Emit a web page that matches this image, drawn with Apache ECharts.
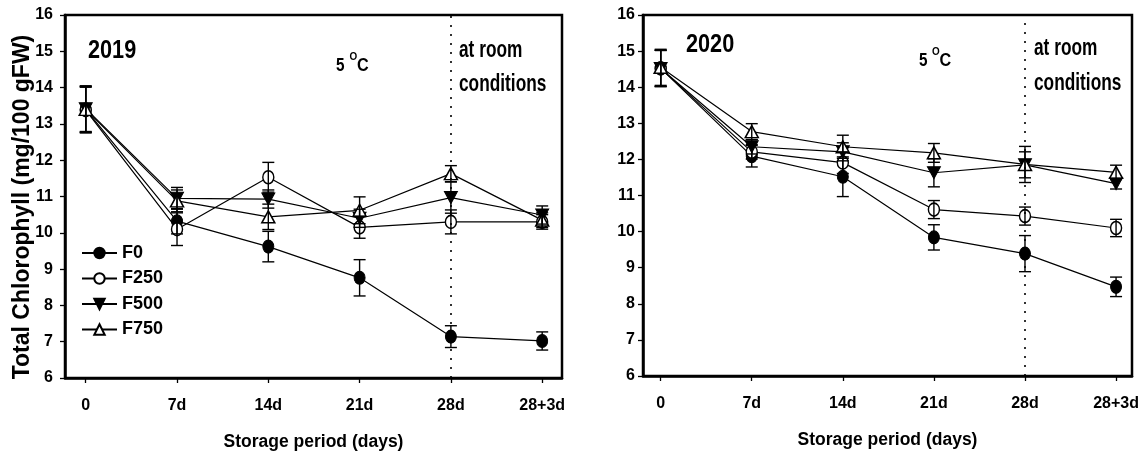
<!DOCTYPE html>
<html><head><meta charset="utf-8">
<script src="https://cdn.jsdelivr.net/npm/echarts@6/dist/echarts.min.js"></script>
<style>html,body{margin:0;padding:0;background:#fff}#c{width:1145px;height:457px}</style>
</head><body><div id="c"></div>
<script>
// ---- data ----
const categories = ['0', '7d', '14d', '21d', '28d', '28+3d'];
const seriesNames = ['F0', 'F250', 'F500', 'F750'];

const f0_2019 = [13.40, 10.32, 9.62, 8.76, 7.14, 7.02];
const f0_2019_err = [0.63, 0.35, 0.42, 0.50, 0.30, 0.25];
const f250_2019 = [13.38, 10.10, 11.53, 10.15, 10.30, 10.30];
const f250_2019_err = [0.63, 0.45, 0.41, 0.30, 0.33, 0.20];
const f500_2019 = [13.42, 10.95, 10.93, 10.40, 10.97, 10.49];
const f500_2019_err = [0.63, 0.30, 0.25, 0.25, 0.43, 0.25];
const f750_2019 = [13.40, 10.88, 10.44, 10.62, 11.63, 10.35];
const f750_2019_err = [0.63, 0.30, 0.35, 0.37, 0.22, 0.20];

const f0_2020 = [14.52, 12.09, 11.52, 9.84, 9.39, 8.47];
const f0_2020_err = [0.50, 0.30, 0.55, 0.35, 0.50, 0.27];
const f250_2020 = [14.52, 12.21, 11.91, 10.61, 10.43, 10.10];
const f250_2020_err = [0.50, 0.20, 0.30, 0.25, 0.25, 0.24];
const f500_2020 = [14.52, 12.35, 12.21, 11.63, 11.85, 11.33];
const f500_2020_err = [0.50, 0.20, 0.25, 0.39, 0.36, 0.15];
const f750_2020 = [14.55, 12.77, 12.35, 12.18, 11.86, 11.64];
const f750_2020_err = [0.50, 0.22, 0.32, 0.26, 0.50, 0.20];

const yTickValues = [6, 7, 8, 9, 10, 11, 12, 13, 14, 15, 16];
const dividerIndex = 4; // 28d

// ---- styles ----
const FONT = '"Liberation Sans", Arial, sans-serif';

const markerStyles = {
  F0: { symbol: 'circle', symbolSize: [11, 13], itemStyle: { color: '#000', borderColor: '#000', borderWidth: 1 } },
  F250: { symbol: 'circle', symbolSize: [11, 13], itemStyle: { color: '#fff', borderColor: '#000', borderWidth: 1.5 } },
  F500: { symbol: 'path://M0,0 L10,0 L5,10 Z', symbolSize: [13, 12], itemStyle: { color: '#000', borderColor: '#000', borderWidth: 1 } },
  F750: { symbol: 'triangle', symbolSize: [13, 12], itemStyle: { color: '#fff', borderColor: '#000', borderWidth: 1.5 } }
};

const panels = [
  { vals: [f0_2019, f250_2019, f500_2019, f750_2019], errs: [f0_2019_err, f250_2019_err, f500_2019_err, f750_2019_err] },
  { vals: [f0_2020, f250_2020, f500_2020, f750_2020], errs: [f0_2020_err, f250_2020_err, f500_2020_err, f750_2020_err] }
];

function errRender(params, api) {
  const x = api.value(0), y = api.value(1), e = api.value(2);
  const t = api.coord([x, y + e]);
  const b = api.coord([x, y - e]);
  const hw = 6;
  const st = { stroke: '#000', lineWidth: 1.4 };
  return {
    type: 'group',
    children: [
      { type: 'line', shape: { x1: t[0], y1: t[1], x2: b[0], y2: b[1] }, style: st },
      { type: 'line', shape: { x1: t[0] - hw, y1: t[1], x2: t[0] + hw, y2: t[1] }, style: st },
      { type: 'line', shape: { x1: b[0] - hw, y1: b[1], x2: b[0] + hw, y2: b[1] }, style: st }
    ]
  };
}

const series = [];
panels.forEach((p, pi) => {
  seriesNames.forEach((name, si) => {
    const s = {
      type: 'line',
      name: name,
      xAxisIndex: pi,
      yAxisIndex: pi,
      data: p.vals[si].map((v, i) => [i, v]),
      symbol: markerStyles[name].symbol,
      symbolSize: markerStyles[name].symbolSize,
      itemStyle: markerStyles[name].itemStyle,
      lineStyle: { color: '#000', width: 1.2 },
      z: 2,
      animation: false
    };
    if (si === 0) {
      s.markLine = {
        silent: true,
        symbol: ['none', 'none'],
        label: { show: false },
        lineStyle: { color: '#000', type: [2, 7], width: 1.6 },
        data: [{ xAxis: dividerIndex }],
        animation: false
      };
    }
    series.push(s);
    series.push({
      type: 'custom',
      name: 'err_' + name + '_' + pi,
      xAxisIndex: pi,
      yAxisIndex: pi,
      renderItem: errRender,
      data: p.vals[si].map((v, i) => [i, v, p.errs[si][i]]),
      encode: { x: 0, y: 1 },
      z: 3,
      silent: true,
      animation: false
    });
  });
});

function xAxisCfg(idx, min, max) {
  return {
    type: 'value', gridIndex: idx, min: min, max: max,
    splitLine: { show: false },
    axisLine: { show: true, onZero: false, lineStyle: { color: '#000', width: 2.5 } },
    axisTick: { show: true, inside: false, length: 5, customValues: [0, 1, 2, 3, 4, 5], lineStyle: { color: '#000', width: 1.3 } },
    axisLabel: {
      customValues: [0, 1, 2, 3, 4, 5],
      formatter: v => categories[Math.round(v)],
      margin: 20, color: '#000', fontFamily: FONT, fontWeight: 'bold', fontSize: 16
    },
    name: 'Storage period (days)', nameLocation: 'middle', nameGap: 55,
    nameTextStyle: { color: '#000', fontFamily: FONT, fontWeight: 'bold', fontSize: 17.5 }
  };
}
function yAxisCfg(idx, margin) {
  return {
    type: 'value', gridIndex: idx, min: 6, max: 16, interval: 1,
    splitLine: { show: false },
    axisLine: { show: true, onZero: false, lineStyle: { color: '#000', width: 2.5 } },
    axisTick: { show: true, inside: false, length: 5, lineStyle: { color: '#000', width: 1.3 } },
    axisLabel: { margin: margin, color: '#000', fontFamily: FONT, fontWeight: 'bold', fontSize: 16,
      formatter: v => (yTickValues.indexOf(v) >= 0 ? String(v) : '') }
  };
}

function txt(x, y, text, size, sx) {
  return { type: 'text', silent: true, x: x, y: y, scaleX: sx, scaleY: 1,
    style: { x: 0, y: 0, text: text, fill: '#000',
      font: 'bold ' + size + 'px ' + FONT, verticalAlign: 'middle', align: 'left' } };
}

const option = {
  animation: false,
  backgroundColor: '#fff',
  grid: [
    { left: 65, top: 15, width: 497, height: 363, show: true, borderColor: '#000', borderWidth: 2.5, containLabel: false },
    { left: 643, top: 15, width: 489, height: 361, show: true, borderColor: '#000', borderWidth: 2.5, containLabel: false }
  ],
  xAxis: [xAxisCfg(0, -0.227, 5.217), xAxisCfg(1, -0.194, 5.175)],
  yAxis: [yAxisCfg(0, 12), yAxisCfg(1, 8)],
  legend: {
    data: seriesNames,
    orient: 'vertical',
    left: 81, top: 244,
    itemWidth: 35, itemHeight: 13, itemGap: 7.5,
    padding: 0,
    textStyle: { color: '#000', fontFamily: FONT, fontWeight: 'bold', fontSize: 18, lineHeight: 18 }
  },
  graphic: [
    txt(88, 51, '2019', 25.5, 0.85),
    txt(336, 66, '5', 18, 0.85), txt(349.5, 56.5, 'O', 11, 0.9), txt(357, 66, 'C', 18, 0.9),
    txt(459, 50, 'at room', 24, 0.72),
    txt(459, 84, 'conditions', 24, 0.72),
    txt(686, 45, '2020', 25.5, 0.85),
    txt(919, 61, '5', 18, 0.85), txt(932, 51.5, 'O', 11, 0.9), txt(939.5, 61, 'C', 18, 0.9),
    txt(1034, 48, 'at room', 24, 0.72),
    txt(1034, 83, 'conditions', 24, 0.72),
    { type: 'text', silent: true, x: 23, y: 207, rotation: Math.PI / 2,
      style: { x: 0, y: 0, text: 'Total Chlorophyll (mg/100 gFW)', fill: '#000',
        font: 'bold 23px ' + FONT, align: 'center', verticalAlign: 'middle' } }
  ],
  series: series
};

const chart = echarts.init(document.getElementById('c'), null, { renderer: 'canvas' });
chart.setOption(option);
</script>
</body></html>
